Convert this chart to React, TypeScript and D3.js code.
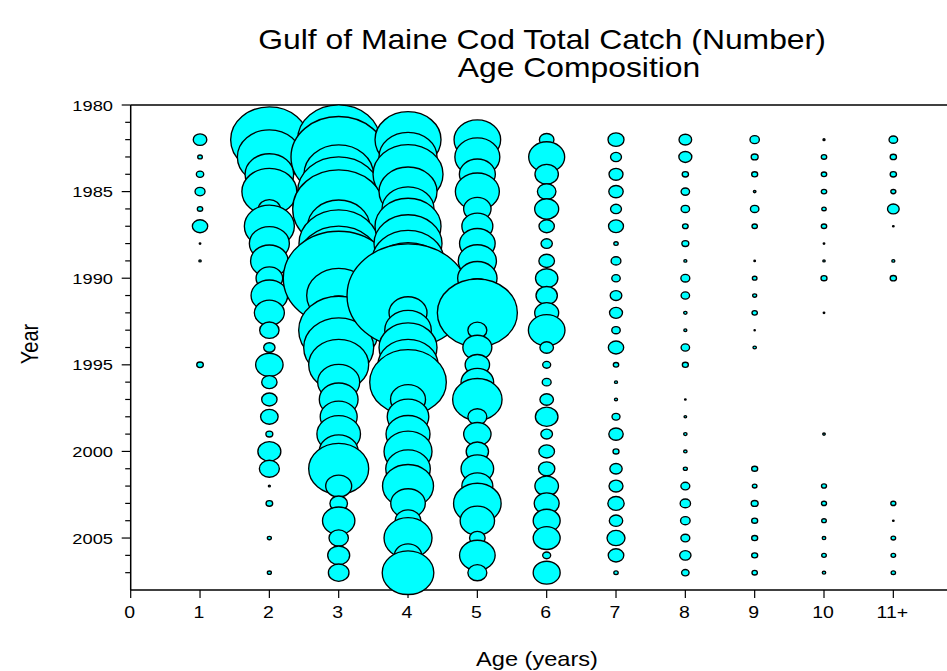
import React from "react";
import * as d3 from "d3";

const years = [1982, 1983, 1984, 1985, 1986, 1987, 1988, 1989, 1990, 1991, 1992, 1993, 1994, 1995, 1996, 1997, 1998, 1999, 2000, 2001, 2002, 2003, 2004, 2005, 2006, 2007];
const ageTickLabels = ["0", "1", "2", "3", "4", "5", "6", "7", "8", "9", "10", "11+"];
const yearTickLabels = [1980, 1985, 1990, 1995, 2000, 2005];

// catch (relative numbers) by year, 1982..2007
const catchAge1 = [46, 5.3, 13.7, 25, 7.3, 59, 0.6, 1.4, 0, 0, 0, 0, 0, 10.9, 0, 0, 0, 0, 0, 0, 0, 0, 0, 0, 0, 0];
const catchAge2 = [1498, 1024, 590, 756, 121, 625, 400, 353, 177, 335, 225, 94, 32, 188, 59, 59, 77, 12, 132, 100, 1, 11, 0, 4, 0, 4];
const catchAge3 = [1681, 2275, 1204, 1681, 2116, 961, 1576, 1681, 3069, 1024, 400, 1600, 1225, 900, 441, 376, 342, 475, 380, 900, 169, 77, 262, 94, 121, 106];
const catchAge4 = [1089, 841, 1225, 841, 676, 1089, 1156, 1296, 1764, 3721, 361, 543, 841, 900, 1467, 306, 433, 484, 576, 497, 650, 299, 164, 576, 185, 666];
const catchAge5 = [543, 506, 324, 484, 188, 240, 317, 365, 388, 400, 1600, 90, 210, 149, 266, 610, 90, 188, 125, 266, 240, 566, 296, 61, 317, 90];
const catchAge6 = [53, 324, 137, 86, 144, 59, 32, 61, 125, 114, 144, 335, 46, 16, 20, 46, 128, 34, 61, 67, 139, 156, 182, 182, 16, 182];
const catchAge7 = [64, 30, 49, 52, 30, 56, 4.8, 24, 18, 34, 42, 18, 59, 7.3, 2.3, 2.3, 16, 52, 9, 38, 49, 67, 45, 81, 61, 4.8];
const catchAge8 = [40, 42, 10, 18, 18, 8, 12, 2.3, 20, 18, 2.9, 2.3, 18, 9, 0, 0.6, 1.7, 2.9, 2.9, 4, 20, 27, 23, 20, 32, 14];
const catchAge9 = [22, 12, 9, 1.7, 18, 7.3, 0, 0.6, 5.3, 4, 7.3, 0.4, 2.9, 0, 0, 0, 0, 0, 0, 9, 5.3, 12, 9, 9, 9, 7.3];
const catchAge10 = [1, 7.3, 7.3, 7.3, 4.8, 7.3, 0.6, 1.4, 9, 0, 0.6, 0, 0, 0, 0, 0, 0, 1.7, 0, 0, 6.3, 6.3, 5.3, 3.2, 5.3, 2.9];
const catchAge11plus = [18.5, 10, 10, 6.3, 34, 0.6, 0, 2.3, 10, 0, 0, 0, 0, 0, 0, 0, 0, 0, 0, 0, 0, 6.3, 0.6, 5.3, 5.3, 4.8];

const ageSeries = [
  { age: 1, values: catchAge1 },
  { age: 2, values: catchAge2 },
  { age: 3, values: catchAge3 },
  { age: 4, values: catchAge4 },
  { age: 5, values: catchAge5 },
  { age: 6, values: catchAge6 },
  { age: 7, values: catchAge7 },
  { age: 8, values: catchAge8 },
  { age: 9, values: catchAge9 },
  { age: 10, values: catchAge10 },
  { age: 11, values: catchAge11plus },
];

const W = 947;
const H = 671;
const left = 130.7;
const top = 105;
const bottom = 590;
const SX = 1.18;
const FONT = "'Liberation Sans', Arial, Helvetica, sans-serif";

function StretchText(props: { x: number; y: number; size: number; anchor?: string; children: React.ReactNode }) {
  return (
    <g transform={`translate(${props.x},${props.y}) scale(${SX},1)`}>
      <text x={0} y={0} textAnchor={props.anchor || "middle"} fontSize={props.size} fill="#000">
        {props.children}
      </text>
    </g>
  );
}

export default function App() {
  const x = d3.scaleLinear().domain([0, 12]).range([left, left + 12 * 69.33]);
  const y = d3.scaleLinear().domain([1980, 2008]).range([top, bottom]);
  const maxV = d3.max(ageSeries, (s) => d3.max(s.values)) as number;
  const r = d3.scaleSqrt().domain([0, maxV]).range([0, 61]);
  const aspect = 1.18;

  const minorYears = d3.range(1980, 2008);

  return (
    <svg width={W} height={H} style={{ position: "fixed", left: 0, top: 0, background: "#fff" }} fontFamily={FONT}>
      <rect x={0} y={0} width={W} height={H} fill="#fff" />
      {/* title */}
      <StretchText x={542} y={49} size={27}>Gulf of Maine Cod Total Catch (Number)</StretchText>
      <StretchText x={579} y={77} size={27}>Age Composition</StretchText>
      {/* frame */}
      <line x1={left} x2={W} y1={top} y2={top} stroke="#000" strokeWidth={1.5} />
      <line x1={left} x2={left} y1={top} y2={bottom} stroke="#000" strokeWidth={1.5} />
      <line x1={left} x2={W} y1={bottom} y2={bottom} stroke="#000" strokeWidth={1.5} />
      {/* y ticks */}
      {minorYears.map((yr) => (
        <line key={"m" + yr} x1={left} x2={left - (yr % 5 === 0 ? 9 : 5.5)} y1={y(yr)} y2={y(yr)} stroke="#000" strokeWidth={1.2} />
      ))}
      {yearTickLabels.map((yr) => (
        <StretchText key={"yl" + yr} x={113} y={y(yr) + 5.5} size={15.5} anchor="end">{yr}</StretchText>
      ))}
      {/* x ticks */}
      {ageTickLabels.map((lab, i) => (
        <g key={"xt" + i}>
          <line x1={x(i)} x2={x(i)} y1={bottom} y2={bottom + 8} stroke="#000" strokeWidth={1.2} />
          <StretchText x={x(i) - 1} y={bottom + 28} size={16.5}>{lab}</StretchText>
        </g>
      ))}
      {/* axis titles */}
      <StretchText x={537} y={666} size={20}>Age (years)</StretchText>
      <g transform={`translate(38,344) scale(${SX},1) rotate(-90)`}>
        <text x={0} y={0} textAnchor="middle" fontSize={20} fill="#000">Year</text>
      </g>
      {/* bubbles */}
      {ageSeries.map((s) =>
        s.values.map((v, j) =>
          v > 0 ? (
            <ellipse
              key={s.age + "-" + years[j]}
              cx={x(s.age)}
              cy={y(years[j])}
              rx={r(v)}
              ry={r(v) / aspect}
              fill="#00FFFF"
              stroke="#000"
              strokeWidth={1.35}
            />
          ) : null
        )
      )}
    </svg>
  );
}
